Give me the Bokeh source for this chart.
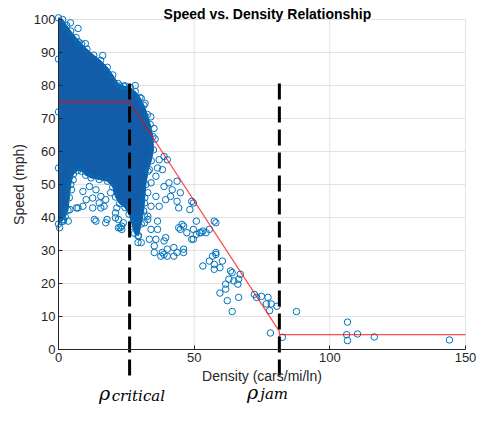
from bokeh.plotting import figure
from bokeh.models import Range1d, FixedTicker
from bokeh.core.properties import value
from bokeh.embed import file_html
from bokeh.resources import INLINE

# ---------------- data ----------------
x_ticks = [0, 50, 100, 150]
y_ticks = [0, 10, 20, 30, 40, 50, 60, 70, 80, 90, 100]

# outline of the saturated (overplotted) cloud of observations
dense_x = [0.0, 1.5, 3.0, 4.5, 6.5, 8.5, 10.5, 13.0, 15.5, 18.0, 20.0, 22.0, 24.0, 26.5,
           28.3, 30.0, 31.5, 32.8, 33.8, 34.8, 35.0, 34.2, 33.0, 32.2, 31.8, 31.4, 30.5,
           29.5, 28.0, 27.0, 26.0, 24.5, 22.5, 21.0, 20.0, 18.0, 15.0, 12.0, 10.0, 8.5,
           7.0, 5.5, 4.5, 4.0, 3.5, 2.5, 1.2, 0.0, 0.0, 0.0, 0.0]
dense_y = [100.5, 100.0, 98.2, 96.5, 94.5, 92.6, 91.0, 89.2, 87.6, 85.5, 83.2, 80.6, 79.8, 79.4,
           78.2, 76.4, 74.0, 71.2, 68.2, 64.5, 60.5, 57.2, 54.0, 50.0, 46.0, 42.0, 38.0,
           34.5, 35.2, 38.2, 41.0, 43.0, 44.2, 46.2, 49.2, 51.0, 51.5, 52.0, 52.8, 54.0,
           54.2, 53.2, 50.0, 46.0, 42.2, 40.2, 38.8, 38.0, 55.0, 72.0, 88.0]

# individual observations (density, speed)
sparse_x = [4.4, 7.2, 7.4, 9.9, 16.3, 22.7, 24.5, 28.3, 30.5, 31.9, 34.0, 35.2, 35.6,
            37.1, 38.9, 40.1, 36.5, 38.3, 35.9, 34.1, 40.7, 43.7, 38.9, 41.9, 44.9, 39.5,
            35.9, 37.1, 34.1, 43.7, 44.3, 49.7, 48.4, 41.3, 49.1,
            32.9, 31.7, 36.5, 34.1, 36.5, 39.5, 35.9, 33.5, 35.3, 38.3, 40.1, 42.5, 40.1,
            46.1, 44.9, 46.1, 47.3, 49.7, 50.8, 49.7, 53.2, 55.6, 50.8, 57.4, 56.8, 58.0,
            16.8, 17.4, 21.0, 21.5, 22.1, 23.3, 23.9, 29.3, 38.9, 42.5,
            15.0, 13.8, 9.0, 6.6, 1.8, 3.6, 0.4, 22.7, 29.3, 30.5, 35.3, 37.7, 38.9, 43.7,
            44.3, 45.5, 49.1, 52.0, 54.4, 58.0, 46.1, 52.6,
            53.2, 55.6, 57.4, 57.4, 58.0, 60.4, 59.5, 63.4, 64.0, 62.8, 64.6, 66.4, 67.0,
            61.6, 59.5, 61.6, 62.2, 66.4, 64.0, 66.1,
            72.2, 73.0, 74.8, 77.2, 76.6, 78.4, 80.5, 77.8, 87.7, 78.1, 82.5,
            106.5, 106.2, 106.5, 110.2, 116.4, 144.1,
            5.4, 4.8, 9.0, 11.4, 13.8, 10.2, 12.6, 15.6, 7.2, 12.6, 15.6, 13.2, 17.9, 4.2,
            1.8, 17.4, 19.2, 21.0, 22.1, 23.3, 26.9, 28.7, 31.7, 32.9, 31.7, 32.9, 33.5]
sparse_y = [99.0, 97.3, 93.2, 92.7, 89.1, 79.9, 79.9, 80.0, 76.1, 74.6, 70.5, 67.0, 63.8,
            57.5, 58.5, 57.5, 55.0, 54.5, 52.5, 50.5, 50.5, 51.0, 49.4, 48.4, 47.5, 45.4,
            46.4, 43.4, 43.4, 44.9, 42.9, 44.4, 42.4, 46.4, 44.9,
            39.4, 40.4, 38.9, 36.4, 36.4, 33.9, 33.4, 33.4, 31.4, 29.4, 30.4, 30.9, 28.3,
            30.4, 36.4, 37.4, 35.4, 36.4, 34.9, 33.4, 35.9, 36.4, 38.9, 38.9, 28.3, 29.4,
            43.4, 38.4, 39.9, 42.9, 36.9, 36.4, 38.4, 32.4, 32.9, 28.3,
            44.4, 38.9, 43.4, 42.9, 39.4, 38.9, 36.9, 36.9, 34.4, 32.4, 29.4, 28.3, 28.8, 29.4,
            36.9, 37.9, 33.4, 35.4, 35.4, 38.4, 29.4, 35.4,
            25.3, 26.8, 25.8, 24.3, 28.8, 26.8, 24.8, 23.8, 23.3, 21.3, 20.8, 21.3, 22.8,
            19.8, 17.1, 18.3, 14.8, 15.8, 11.5, 19.8,
            16.7, 15.8, 16.1, 15.8, 13.8, 13.8, 13.1, 11.8, 11.5, 5.0, 3.7,
            8.3, 4.5, 2.7, 4.7, 3.8, 2.9,
            51.4, 48.4, 47.9, 49.4, 48.4, 45.4, 45.9, 46.4, 42.9, 42.9, 42.9, 39.4, 39.4, 42.4,
            38.9, 45.4, 47.5, 41.4, 39.4, 37.4, 37.4, 39.4, 38.4, 40.4, 44.4, 47.5, 54.5]

# piecewise speed-density fit
fit_x = [0, 26.2, 81.4, 81.4, 150]
fit_y = [75, 75, 5.5, 4.5, 4.5]

rho_critical = 26.2
rho_jam = 81.4
marker_top = 80.6
marker_bottom = -9.6

# annotation placement (data units)
title_pos = (77.0, 101.52)
crit_rho_pos = (14.96, -13.33)
crit_sub_pos = (19.6, -13.94)
jam_rho_pos = (69.5, -12.88)
jam_sub_pos = (74.35, -13.48)
X_MIN, X_MAX = -21.376, 154.42
Y_MIN, Y_MAX = -16.97, 105.758

FONT = "Liberation Sans"
AX = "#262626"
BLUE = "#0072BD"
GRID = "#e2e2e2"

p = figure(width=477, height=405, output_backend="svg", toolbar_location=None,
           x_range=Range1d(X_MIN, X_MAX), y_range=Range1d(Y_MIN, Y_MAX),
           min_border_left=0, min_border_right=0, min_border_top=0,
           min_border_bottom=0, outline_line_color=None,
           background_fill_color="white", border_fill_color="white")

p.xgrid.visible = False
p.ygrid.visible = False

p.xaxis.ticker = FixedTicker(ticks=x_ticks)
p.xaxis.bounds = (0, 150)
p.xaxis.fixed_location = 0
p.yaxis.ticker = FixedTicker(ticks=y_ticks)
p.yaxis.bounds = (0, 100)
p.yaxis.fixed_location = 0
p.xaxis.axis_label = "Density (cars/mi/ln)"
p.yaxis.axis_label = "Speed (mph)"

for ax in (p.xaxis, p.yaxis):
    ax.axis_line_color = AX
    ax.axis_line_width = 1
    ax.major_tick_line_color = AX
    ax.major_tick_in = 4
    ax.major_tick_out = 0
    ax.minor_tick_line_color = None
    ax.major_label_text_font = FONT
    ax.major_label_text_font_size = "13px"
    ax.major_label_text_color = AX
    ax.axis_label_text_font = FONT
    ax.axis_label_text_font_size = "14px"
    ax.axis_label_text_font_style = "normal"
    ax.axis_label_text_color = AX
p.xaxis.major_label_standoff = 4
p.xaxis.axis_label_standoff = 2
p.yaxis.major_label_standoff = 3
p.yaxis.axis_label_standoff = 4

# grid lines over the data area only
hy = y_ticks[1:]
p.segment(x0=[0] * len(hy), y0=hy, x1=[150] * len(hy), y1=hy,
          line_color=GRID, line_width=1, level="underlay")
vx = x_ticks[1:]
p.segment(x0=vx, y0=[0] * len(vx), x1=vx, y1=[100] * len(vx),
          line_color=GRID, line_width=1, level="underlay")

# saturated cloud
p.patch(dense_x[:48], dense_y[:48], fill_color="#135ca8", line_color="#135ca8",
        line_width=1)
p.scatter(dense_x, dense_y, marker="circle", size=6.5, fill_color=None,
          line_color=BLUE, line_width=1)
p.scatter(sparse_x, sparse_y, marker="circle", size=6.5, fill_color=None,
          line_color=BLUE, line_width=1)

# fitted relationship
p.line(fit_x, fit_y, line_color="#ff0000", line_alpha=0.7, line_width=1.3)

# critical / jam density markers
for xv in (rho_critical, rho_jam):
    p.line([xv, xv], [marker_top, marker_bottom], line_color="black",
           line_width=3, line_dash="16 7")

serif = value("DejaVu Serif")
p.text(x=[crit_rho_pos[0], jam_rho_pos[0]], y=[crit_rho_pos[1], jam_rho_pos[1]],
       text=["ρ", "ρ"], text_font=serif, text_font_style="italic",
       text_font_size="19px", text_color="black", text_baseline="alphabetic",
       text_align="left")
p.text(x=[crit_sub_pos[0], jam_sub_pos[0]], y=[crit_sub_pos[1], jam_sub_pos[1]],
       text=["critical", "jam"], text_font=serif, text_font_style="italic",
       text_font_size="15px", text_color="black", text_baseline="alphabetic",
       text_align="left")

# title (above the data area)
p.text(x=[title_pos[0]], y=[title_pos[1]], text=["Speed vs. Density Relationship"],
       text_font=value(FONT), text_font_style="bold", text_font_size="14px",
       text_color="black", text_align="center", text_baseline="alphabetic")

open("out.html", "w").write(file_html(p, INLINE))
